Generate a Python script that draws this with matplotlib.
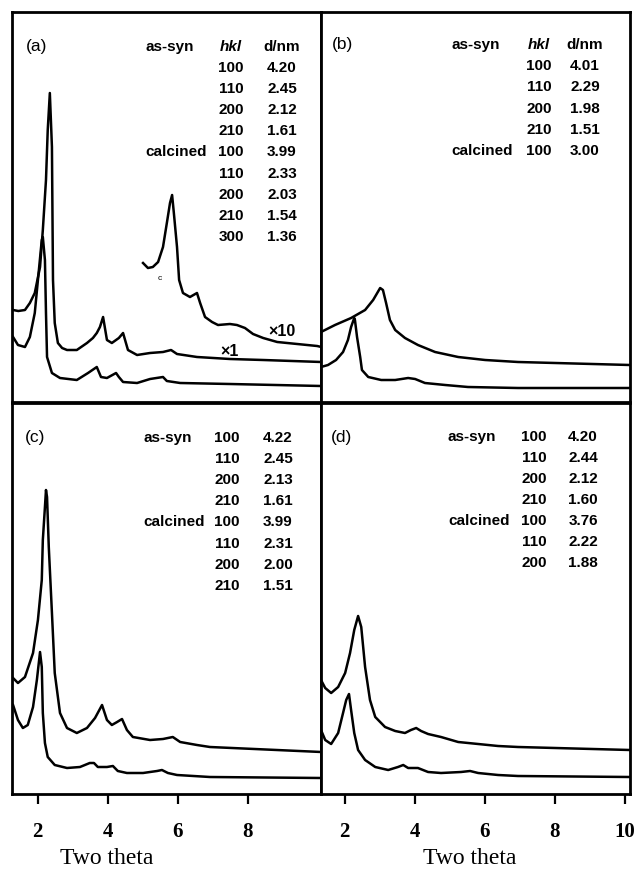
import numpy as np
import matplotlib
matplotlib.use("Agg")
import matplotlib.pyplot as plt

# ---- diffraction traces: (two theta, intensity) ----
a_cal_x = [1.30, 1.45, 1.64, 1.78, 1.92, 2.07, 2.15, 2.24, 2.29, 2.35, 2.41, 2.44, 2.49, 2.58, 2.70, 2.84, 3.12,
           3.41, 3.58, 3.69, 3.78, 3.87, 3.98, 4.12, 4.32, 4.44, 4.58, 4.84, 5.21, 5.58, 5.81, 5.98, 6.55, 7.49,
           8.44, 10.1]
a_cal_y = [92, 91, 92, 99, 109, 135, 172, 222, 272, 309, 255, 122, 79, 59, 54, 52, 52,
           59, 64, 69, 75, 85, 62, 59, 64, 69, 52, 47, 49, 50, 52, 48, 45, 43,
           42, 40]

a_x10_x = [5.01, 5.15, 5.29, 5.44, 5.58, 5.69, 5.78, 5.84, 5.89, 5.98, 6.04, 6.15, 6.35, 6.55, 6.64, 6.78,
           6.98, 7.15, 7.49, 7.69, 7.92, 8.15, 8.44, 8.84, 9.41, 9.98, 10.1]
a_x10_y = [139, 134, 135, 140, 155, 179, 199, 207, 189, 155, 122, 109, 105, 109, 99, 85,
           80, 77, 78, 77, 74, 68, 64, 60, 58, 56, 55]

a_syn_x = [1.30, 1.44, 1.64, 1.78, 1.92, 2.01, 2.12, 2.15, 2.21, 2.24, 2.27, 2.41, 2.64, 3.12, 3.44, 3.69,
           3.81, 3.98, 4.24, 4.32, 4.44, 4.84, 5.21, 5.58, 5.69, 6.07, 7.49, 10.1]
a_syn_y = [65, 57, 55, 65, 89, 122, 162, 165, 142, 89, 45, 29, 24, 22, 29, 35,
           25, 24, 29, 25, 20, 19, 23, 25, 21, 19, 18, 16]

b_cal_x = [1.32, 1.72, 2.18, 2.58, 2.81, 3.01, 3.09, 3.18, 3.29, 3.44, 3.72, 4.09, 4.58, 5.24, 6.01, 6.95, 10.15]
b_cal_y = [70, 77, 84, 92, 102, 114, 112, 99, 82, 72, 64, 57, 50, 45, 42, 40, 37]

b_syn_x = [1.32, 1.52, 1.75, 1.95, 2.09, 2.18, 2.27, 2.29, 2.35, 2.44, 2.49, 2.67, 3.04, 3.44, 3.81, 4.01,
           4.29, 4.87, 5.52, 6.95, 10.15]
b_syn_y = [35, 37, 42, 50, 62, 75, 84, 82, 65, 45, 32, 25, 22, 22, 24, 23,
           19, 17, 15, 14, 14]

c_cal_x = [1.30, 1.44, 1.64, 1.87, 2.01, 2.12, 2.15, 2.21, 2.24, 2.27, 2.32, 2.41, 2.49, 2.64, 2.84, 3.12,
           3.41, 3.64, 3.84, 3.98, 4.12, 4.27, 4.41, 4.55, 4.72, 5.21, 5.58, 5.86, 6.07, 6.55, 6.92, 10.1]
c_cal_y = [116, 111, 117, 141, 174, 214, 254, 287, 304, 297, 247, 181, 121, 81, 66, 61,
           66, 76, 89, 74, 69, 72, 75, 64, 57, 54, 55, 57, 52, 49, 47, 42]

c_syn_x = [1.30, 1.44, 1.58, 1.72, 1.87, 1.98, 2.07, 2.12, 2.15, 2.21, 2.29, 2.49, 2.84, 3.21, 3.49, 3.61,
           3.72, 3.98, 4.15, 4.29, 4.55, 5.01, 5.41, 5.55, 5.72, 5.98, 6.92, 10.1]
c_syn_y = [89, 74, 66, 69, 87, 114, 142, 127, 81, 51, 37, 29, 26, 27, 31, 31,
           27, 27, 28, 23, 21, 21, 23, 24, 21, 19, 17, 16]

d_cal_x = [1.32, 1.44, 1.61, 1.81, 2.01, 2.15, 2.27, 2.38, 2.47, 2.58, 2.72, 2.87, 3.15, 3.44, 3.72, 3.89,
           4.04, 4.18, 4.38, 4.75, 5.24, 5.81, 6.38, 6.95, 10.15]
d_cal_y = [114, 106, 101, 107, 121, 141, 164, 178, 167, 127, 94, 77, 67, 63, 61, 64,
           66, 63, 60, 57, 52, 50, 48, 47, 44]

d_syn_x = [1.32, 1.44, 1.61, 1.81, 1.95, 2.04, 2.12, 2.18, 2.27, 2.38, 2.58, 2.87, 3.24, 3.52, 3.67, 3.81,
           4.09, 4.38, 4.75, 5.32, 5.58, 5.81, 6.38, 6.95, 10.15]
d_syn_y = [64, 54, 50, 61, 81, 94, 100, 84, 61, 44, 34, 27, 24, 27, 29, 26,
           26, 22, 21, 22, 23, 21, 19, 18, 17]

# ---- reflection tables ----
a_hkl = ["100", "110", "200", "210", "100", "110", "200", "210", "300"]
a_d = ["4.20", "2.45", "2.12", "1.61", "3.99", "2.33", "2.03", "1.54", "1.36"]
b_hkl = ["100", "110", "200", "210", "100"]
b_d = ["4.01", "2.29", "1.98", "1.51", "3.00"]
c_hkl = ["100", "110", "200", "210", "100", "110", "200", "210"]
c_d = ["4.22", "2.45", "2.13", "1.61", "3.99", "2.31", "2.00", "1.51"]
d_hkl = ["100", "110", "200", "210", "100", "110", "200"]
d_d = ["4.20", "2.44", "2.12", "1.60", "3.76", "2.22", "1.88"]

W, H = 638, 890
fig = plt.figure(figsize=(W / 100, H / 100), dpi=100)
sans = "Liberation Sans"
serif = "Liberation Serif"


def box(x0, y0, x1, y1):
    return [x0 / W, 1 - y1 / H, (x1 - x0) / W, (y1 - y0) / H]


def ftext(x, y, s, **kw):
    fig.text(x / W, 1 - y / H, s, **kw)


ax_a = fig.add_axes(box(12, 12, 321, 402))
ax_b = fig.add_axes(box(321, 12, 630, 402))
ax_c = fig.add_axes(box(12, 403, 321, 794))
ax_d = fig.add_axes(box(321, 403, 630, 794))

lw = 1.8
ax_a.plot(a_cal_x, a_cal_y, color="black", lw=lw)
ax_a.plot(a_x10_x, a_x10_y, color="black", lw=lw)
ax_a.plot(a_syn_x, a_syn_y, color="black", lw=lw)
ax_b.plot(b_cal_x, b_cal_y, color="black", lw=lw)
ax_b.plot(b_syn_x, b_syn_y, color="black", lw=lw)
ax_c.plot(c_cal_x, c_cal_y, color="black", lw=lw)
ax_c.plot(c_syn_x, c_syn_y, color="black", lw=lw)
ax_d.plot(d_cal_x, d_cal_y, color="black", lw=lw)
ax_d.plot(d_syn_x, d_syn_y, color="black", lw=lw)

for ax in (ax_a, ax_c):
    ax.set_xlim(1.27, 10.09)
for ax in (ax_b, ax_d):
    ax.set_xlim(1.32, 10.15)
ax_a.set_ylim(0, 390)
ax_b.set_ylim(0, 390)
ax_c.set_ylim(0, 391)
ax_d.set_ylim(0, 391)

for ax in (ax_a, ax_b, ax_c, ax_d):
    for sp in ax.spines.values():
        sp.set_linewidth(2.0)
    ax.set_yticks([])
    ax.set_xticks([])

ax_c.set_xticks([2, 4, 6, 8])
ax_d.set_xticks([2, 4, 6, 8, 10])
for ax in (ax_c, ax_d):
    ax.tick_params(axis="x", direction="out", length=7, width=1.6, pad=13, labelsize=15)
    for lab in ax.get_xticklabels():
        lab.set_fontfamily(serif)
        lab.set_fontweight("bold")

ftext(107, 858, "Two theta", family=serif, fontsize=17, ha="center", va="center")
ftext(470, 858, "Two theta", family=serif, fontsize=17, ha="center", va="center")

# panel letters and tables
tk = dict(family=sans, fontsize=11, fontweight="bold", va="center")
lk = dict(family=sans, fontsize=12.5, va="center")
ftext(26, 46, "(a)", **lk)
ftext(332, 45, "(b)", **lk)
ftext(25, 437, "(c)", **lk)
ftext(331, 437, "(d)", **lk)


def table(lx, hx, dx, y0, dy, hkl, d, n_syn, header):
    y = y0
    if header:
        ftext(lx, y, "as-syn", ha="left", **tk)
        ftext(hx, y, "hkl", ha="center", style="italic", **tk)
        ftext(dx, y, "d/nm", ha="center", **tk)
        y += dy
    for i, (h, v) in enumerate(zip(hkl, d)):
        if i == 0 and not header:
            ftext(lx, y, "as-syn", ha="left", **tk)
        if i == n_syn:
            ftext(lx, y, "calcined", ha="left", **tk)
        ftext(hx, y, h, ha="center", **tk)
        ftext(dx, y, v, ha="center", **tk)
        y += dy


table(145, 231, 282, 47, 21.1, a_hkl, a_d, 4, True)
table(451, 539, 585, 45, 21.2, b_hkl, b_d, 4, True)
table(143, 227, 278, 438, 21.1, c_hkl, c_d, 4, False)
table(448, 534, 583, 437, 21.0, d_hkl, d_d, 4, False)

ftext(282, 331, "×10", family=sans, fontsize=11.5, fontweight="bold", ha="center", va="center")
ftext(230, 352, "×1", family=sans, fontsize=11.5, fontweight="bold", ha="center", va="center")
ftext(160, 278, "c", family=sans, fontsize=6, ha="center", va="center")

fig.savefig("out.png", dpi=100)
